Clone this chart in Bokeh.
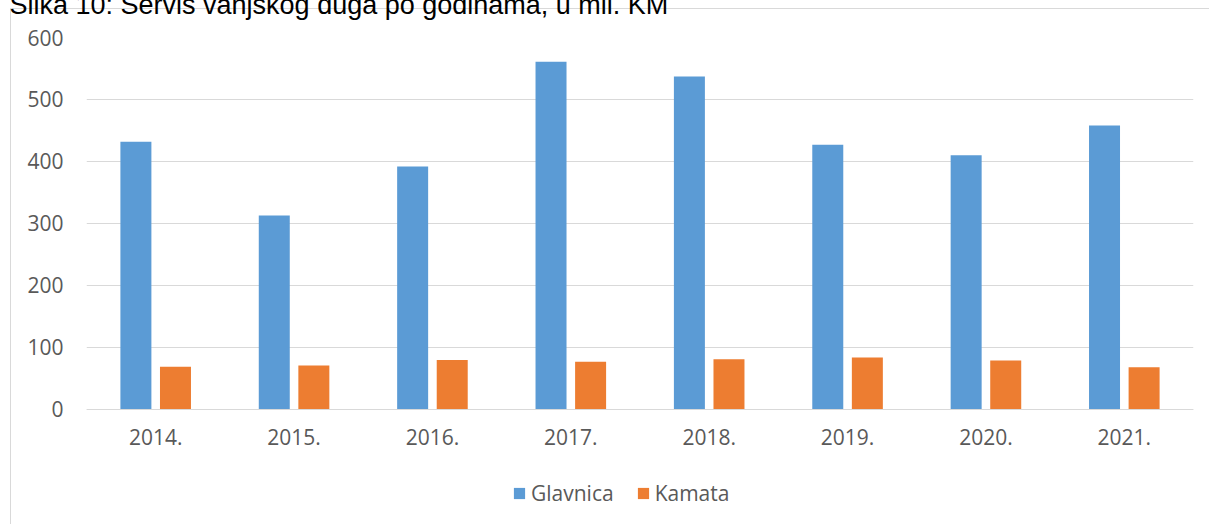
from bokeh.plotting import figure
from bokeh.models import (ColumnDataSource, FactorRange, Range1d, FixedTicker,
                          Legend, LegendItem)
from bokeh.transform import dodge
from bokeh.embed import file_html
from bokeh.resources import INLINE

title_text = "Slika 10: Servis vanjskog duga po godinama, u mil. KM"
years = ["2014.", "2015.", "2016.", "2017.", "2018.", "2019.", "2020.", "2021."]
glavnica = [432, 313, 392, 561, 537, 427, 410, 458]
kamata = [69, 71, 80, 77, 81, 84, 79, 68]
series_names = ["Glavnica", "Kamata"]
colors = ["#5B9BD5", "#ED7D31"]
y_ticks = [0, 100, 200, 300, 400, 500, 600]

src = ColumnDataSource(dict(year=years, glavnica=glavnica, kamata=kamata))

FONT = "Open Sans"
TXT = "#595959"
GRID = "#d9d9d9"
SHIFT = 32  # canvas rows hidden above the page top (the reference cuts its caption)

p = figure(x_range=FactorRange(*years, range_padding=0), y_range=Range1d(-185.5, 600),
           width=1209, height=524 + SHIFT, output_backend="svg", toolbar_location=None,
           min_border_left=86, min_border_right=16, min_border_top=37 + SHIFT,
           min_border_bottom=0, background_fill_alpha=0,
           border_fill_alpha=0, outline_line_color=None)
# chart-area frame (top and left edges) drawn as the host element's background
p.styles = {
    "margin-top": f"-{SHIFT}px",
    "background-image": "linear-gradient(#d9d9d9, #d9d9d9), linear-gradient(#d9d9d9, #d9d9d9)",
    "background-size": "100% 1px, 1px 100%",
    "background-position": f"10px {8 + SHIFT}px, 10px {8 + SHIFT}px",
    "background-repeat": "no-repeat",
    "background-color": "white",
}

p.title.text = title_text
p.title.text_font = "Liberation Sans"
p.title.text_font_size = "27px"
p.title.text_font_style = "normal"
p.title.text_color = "black"
p.title.align = "left"
p.title.offset = -77
p.title.standoff = 36

r1 = p.vbar(x=dodge("year", -0.143, range=p.x_range), top="glavnica", width=0.224,
            source=src, fill_color=colors[0], line_color=None)
r2 = p.vbar(x=dodge("year", 0.143, range=p.x_range), top="kamata", width=0.224,
            source=src, fill_color=colors[1], line_color=None)

p.yaxis.ticker = FixedTicker(ticks=y_ticks)
p.ygrid.ticker = FixedTicker(ticks=y_ticks)
p.xgrid.grid_line_color = None
p.ygrid.grid_line_color = GRID
p.ygrid.grid_line_width = 1

for ax in (p.xaxis[0], p.yaxis[0]):
    ax.major_label_text_font = FONT
    ax.major_label_text_font_size = "21px"
    ax.major_label_text_color = TXT
    ax.major_tick_line_color = None
    ax.minor_tick_line_color = None
    ax.major_tick_out = 0
    ax.major_tick_in = 0
p.yaxis.axis_line_color = None
p.yaxis.major_label_standoff = 23
p.xaxis.axis_line_color = GRID
p.xaxis.major_label_standoff = 20
p.xaxis.fixed_location = 0

legend = Legend(items=[LegendItem(label=series_names[0], renderers=[r1]),
                       LegendItem(label=series_names[1], renderers=[r2])],
                orientation="horizontal", location=(426, 17),
                label_text_font=FONT, label_text_font_size="21px",
                label_text_color=TXT, glyph_width=14, glyph_height=14,
                spacing=22, label_standoff=5, padding=0, margin=0,
                border_line_color=None, background_fill_alpha=0)
p.add_layout(legend)

open("out.html", "w").write(file_html(p, INLINE))
